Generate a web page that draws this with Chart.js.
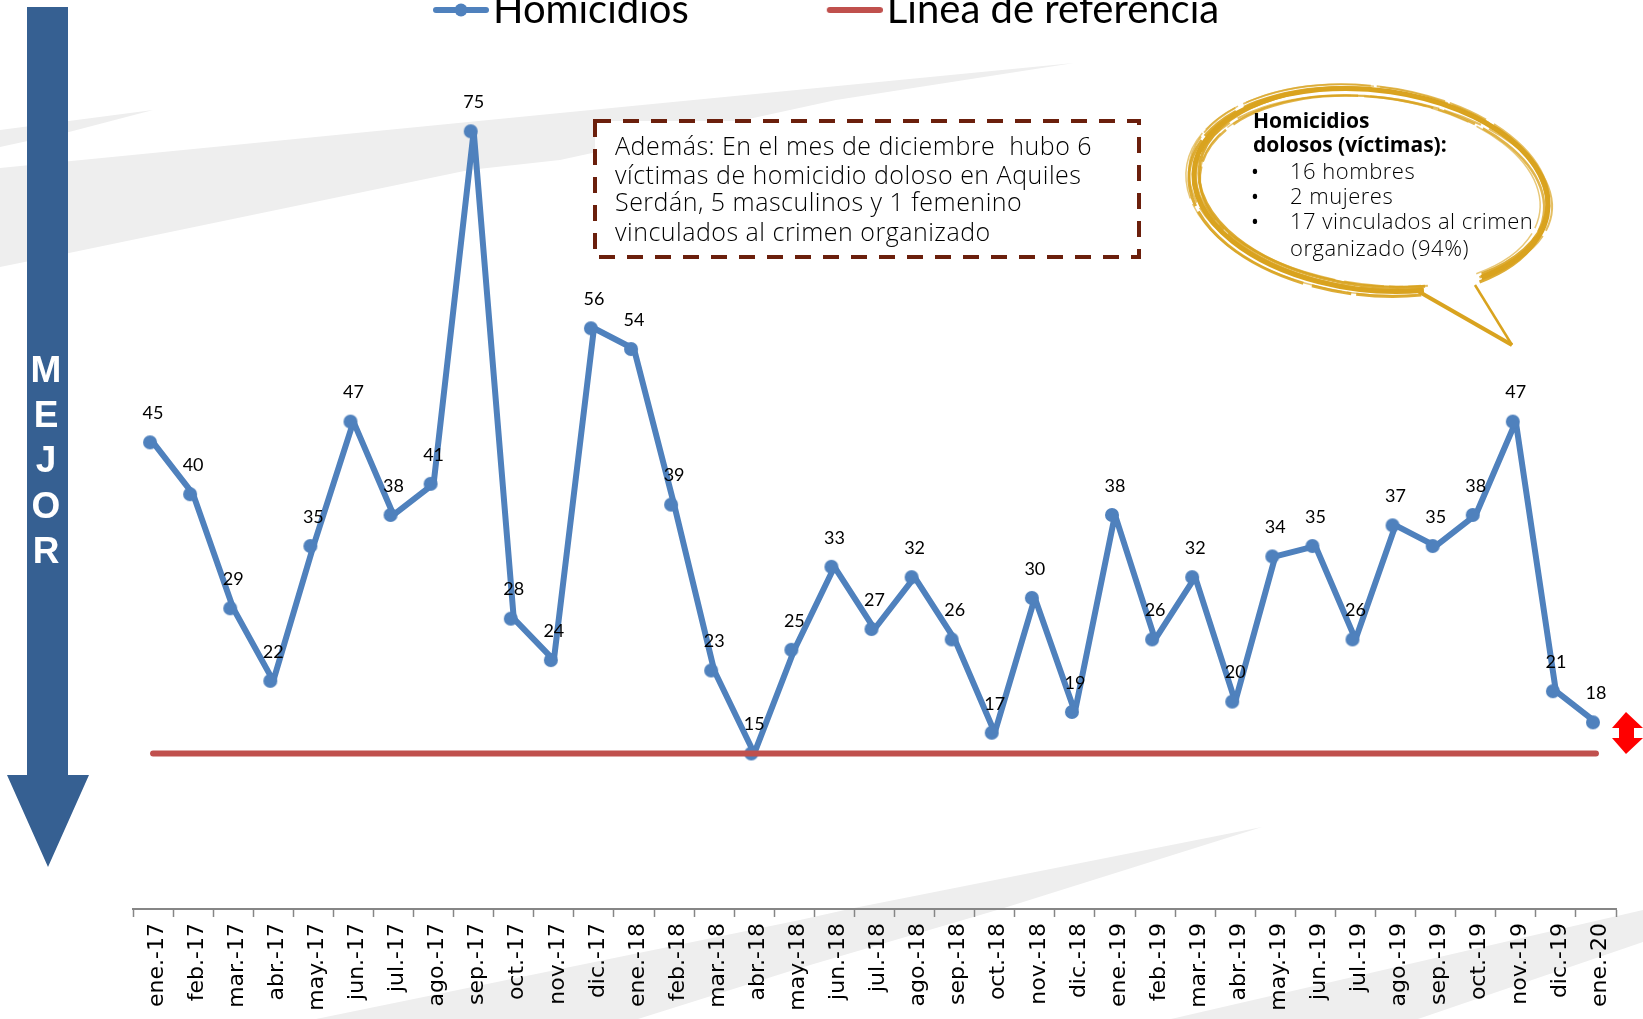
<!DOCTYPE html>
<html>
<head>
<meta charset="utf-8">
<style>
html, body { margin: 0; padding: 0; background: #fff; overflow: hidden; }
#wrap { position: relative; width: 1643px; height: 1019px; }
canvas { display: block; }
</style>
</head>
<body>
<div id="wrap"><canvas id="homChart" width="1643" height="1019"></canvas></div>
<script src="https://cdn.jsdelivr.net/npm/chart.js@4"></script>
<script>
var months = ["ene.-17","feb.-17","mar.-17","abr.-17","may.-17","jun.-17","jul.-17","ago.-17","sep.-17","oct.-17","nov.-17","dic.-17",
	"ene.-18","feb.-18","mar.-18","abr.-18","may.-18","jun.-18","jul.-18","ago.-18","sep.-18","oct.-18","nov.-18","dic.-18",
	"ene.-19","feb.-19","mar.-19","abr.-19","may.-19","jun.-19","jul.-19","ago.-19","sep.-19","oct.-19","nov.-19","dic.-19","ene.-20"];
var homicidios = [45,40,29,22,35,47,38,41,75,28,24,56,54,39,23,15,25,33,27,32,26,17,30,19,38,26,32,20,34,35,26,37,35,38,47,21,18];
var referencia = [15,15,15,15,15,15,15,15,15,15,15,15,15,15,15,15,15,15,15,15,15,15,15,15,15,15,15,15,15,15,15,15,15,15,15,15,15];
var boxLines = ["Además: En el mes de diciembre  hubo 6","víctimas de homicidio doloso en Aquiles","Serdán, 5 masculinos y 1 femenino","vinculados al crimen organizado"];
var bubbleTitle = ["Homicidios","dolosos (víctimas):"];
var bubbleItems = ["16 hombres","2 mujeres","17 vinculados al crimen"];
var bubbleLast = "organizado (94%)";
var arrowWord = ["M","E","J","O","R"];

var BLUE = '#4f81bd', RED = '#c0504d', GOLD = '#d9a31f', NAVY = '#366092', GREY = '#eeeeee';

function poly(ctx, pts, color) {
	ctx.fillStyle = color;
	ctx.beginPath();
	pts.forEach(function (p, i) { i ? ctx.lineTo(p[0], p[1]) : ctx.moveTo(p[0], p[1]); });
	ctx.closePath();
	ctx.fill();
}

// marker sits a bit left of the line vertex, same as the source
function markerImage() {
	var c = document.createElement('canvas');
	c.width = 22; c.height = 22;
	var x = c.getContext('2d');
	x.fillStyle = BLUE;
	x.beginPath(); x.arc(8, 11, 7, 0, Math.PI * 2); x.fill();
	return c;
}

function legendImage(color, withDot) {
	var c = document.createElement('canvas');
	c.width = 210; c.height = 20;
	var x = c.getContext('2d');
	x.strokeStyle = color; x.lineWidth = 6; x.lineCap = 'round';
	x.beginPath(); x.moveTo(c.width - 53, 10); x.lineTo(c.width - 3, 10); x.stroke();
	if (withDot) {
		x.fillStyle = color;
		x.beginPath(); x.arc(c.width - 28, 10, 6.5, 0, Math.PI * 2); x.fill();
	}
	return c;
}

var backdrop = {
	id: 'backdrop',
	afterLayout: function (chart) {
		chart.legend.left = 295;
	},
	beforeDraw: function (chart) {
		var ctx = chart.ctx;
		ctx.save();
		poly(ctx, [[0,130],[153,110],[69,132],[0,147]], GREY);
		poly(ctx, [[0,168],[560,113],[1074,63],[836,100],[560,160],[469,170],[69,253],[0,267]], GREY);
		poly(ctx, [[316,1019],[800,920],[854,908],[1262,827],[1004,908],[800,968],[638,1019]], GREY);
		poly(ctx, [[1171,1019],[1643,910],[1643,942],[1418,1019]], GREY);
		ctx.restore();
	}
};

var decor = {
	id: 'decor',
	afterDraw: function (chart) {
		var ctx = chart.ctx;
		ctx.save();

		// data labels
		var meta = chart.getDatasetMeta(1);
		ctx.fillStyle = '#000';
		ctx.font = '18px Lato';
		ctx.textAlign = 'center';
		ctx.textBaseline = 'middle';
		meta.data.forEach(function (pt, i) {
			ctx.fillText(homicidios[i], pt.x, pt.y - 29);
		});

		// big arrow on the left
		poly(ctx, [[27,7],[68,7],[68,775],[89,775],[48,867],[7,775],[27,775]], NAVY);
		ctx.fillStyle = '#fff';
		ctx.font = 'bold 37px "Liberation Sans"';
		[372,417,462,508,553].forEach(function (y, i) {
			ctx.fillText(arrowWord[i], 46, y);
		});

		// red double arrow
		poly(ctx, [[1626,712],[1643,728],[1634,728],[1634,738],[1643,738],[1626,754],[1612,738],[1619,738],[1619,728],[1612,728]], '#ff0000');

		// dashed text box
		ctx.fillStyle = '#fff';
		ctx.fillRect(595, 121, 544, 136);
		ctx.strokeStyle = '#6b1f0c';
		ctx.lineWidth = 4;
		ctx.setLineDash([16, 12]);
		ctx.strokeRect(595, 121, 544, 136);
		ctx.setLineDash([]);
		ctx.fillStyle = '#000';
		ctx.textAlign = 'left';
		ctx.font = '300 25px "Open Sans"';
		ctx.letterSpacing = '0.5px';
		[148,177,204,234].forEach(function (y, i) {
			ctx.fillText(boxLines[i], 615, y);
		});
		ctx.letterSpacing = '0px';

		// speech bubble, several loose strokes
		var cx = 1371, cy = 190, rot = 0.12;
		var loose = [[0,0,0,0,5,1,0],[2,-2,-3,-2,3,0.9,0],[-3,2,2,3,3,0.9,1],[1,3,-5,-4,2.5,0.8,1],[-2,-3,3,1,2,0.7,1],[3,1,1,-6,2,0.7,1],[-1,1,-7,-6,1.5,0.6,1],[-4,0,4,4,1.5,0.6,1]];
		ctx.strokeStyle = GOLD;
		loose.forEach(function (s) {
			ctx.lineWidth = s[4];
			ctx.globalAlpha = s[5];
			ctx.setLineDash(s[6] ? [70, 6, 130, 9, 40, 5] : []);
			ctx.beginPath();
			ctx.ellipse(cx + s[0], cy + s[1], 178 + s[2], 100 + s[3], rot, 0.83, 1.2, true);
			ctx.stroke();
		});
		ctx.setLineDash([]);
		ctx.globalAlpha = 1;
		ctx.lineWidth = 4;
		ctx.beginPath(); ctx.moveTo(1416,290); ctx.lineTo(1512,345); ctx.stroke();
		ctx.lineWidth = 2.5;
		ctx.beginPath(); ctx.moveTo(1512,345); ctx.lineTo(1475,285); ctx.stroke();

		ctx.fillStyle = '#000';
		ctx.font = 'bold 21px "Open Sans"';
		ctx.fillText(bubbleTitle[0], 1253, 122);
		ctx.fillText(bubbleTitle[1], 1253, 146);
		[173,198,223].forEach(function (y, i) {
			ctx.font = '21px "Open Sans"';
			ctx.fillText('•', 1251, y);
			ctx.font = '300 22px "Open Sans"';
			ctx.letterSpacing = '0.5px';
			ctx.fillText(bubbleItems[i], 1290, y);
			ctx.letterSpacing = '0px';
		});
		ctx.letterSpacing = '0.5px';
		ctx.fillText(bubbleLast, 1290, 250);
		ctx.restore();
	}
};

var dot = markerImage();
var chart = new Chart(document.getElementById('homChart').getContext('2d'), {
	type: 'line',
	data: {
		labels: months,
		datasets: [{
			label: 'Línea de referencia',
			data: referencia,
			borderColor: RED,
			backgroundColor: RED,
			borderWidth: 6,
			borderCapStyle: 'round',
			pointRadius: 0,
			order: 0
		}, {
			label: 'Homicidios',
			data: homicidios,
			borderColor: BLUE,
			backgroundColor: BLUE,
			borderWidth: 6,
			borderJoinStyle: 'round',
			pointStyle: dot,
			pointRadius: 6,
			tension: 0,
			order: 1
		}]
	},
	options: {
		responsive: false,
		animation: false,
		layout: { padding: { left: 133, right: 27, top: -10, bottom: 0 } },
		plugins: {
			tooltip: { enabled: false },
			legend: {
				position: 'top',
				align: 'start',
				labels: {
					usePointStyle: true,
					pointStyleWidth: 178,
					padding: 0,
					color: '#000',
					font: { family: 'Lato', size: 40 },
					generateLabels: function () {
						return [
							{ text: 'Homicidios', pointStyle: legendImage(BLUE, true), fillStyle: BLUE, strokeStyle: BLUE, lineWidth: 0, datasetIndex: 1 },
							{ text: 'Línea de referencia', pointStyle: legendImage(RED, false), fillStyle: RED, strokeStyle: RED, lineWidth: 0, datasetIndex: 0 }
						];
					}
				}
			}
		},
		scales: {
			x: {
				offset: true,
				afterFit: function (scale) { scale.height = 110; },
				border: { color: '#868686', width: 2 },
				grid: { offset: true, drawOnChartArea: false, tickColor: '#868686', tickLength: 8, tickWidth: 1.5 },
				ticks: { autoSkip: false, minRotation: 90, maxRotation: 90, padding: 6, labelOffset: 4, color: '#000', font: { family: 'DejaVu Sans', size: 22 } }
			},
			y: { display: false, min: 0, max: 83.8 }
		}
	},
	plugins: [backdrop, decor]
});
</script>
</body>
</html>
